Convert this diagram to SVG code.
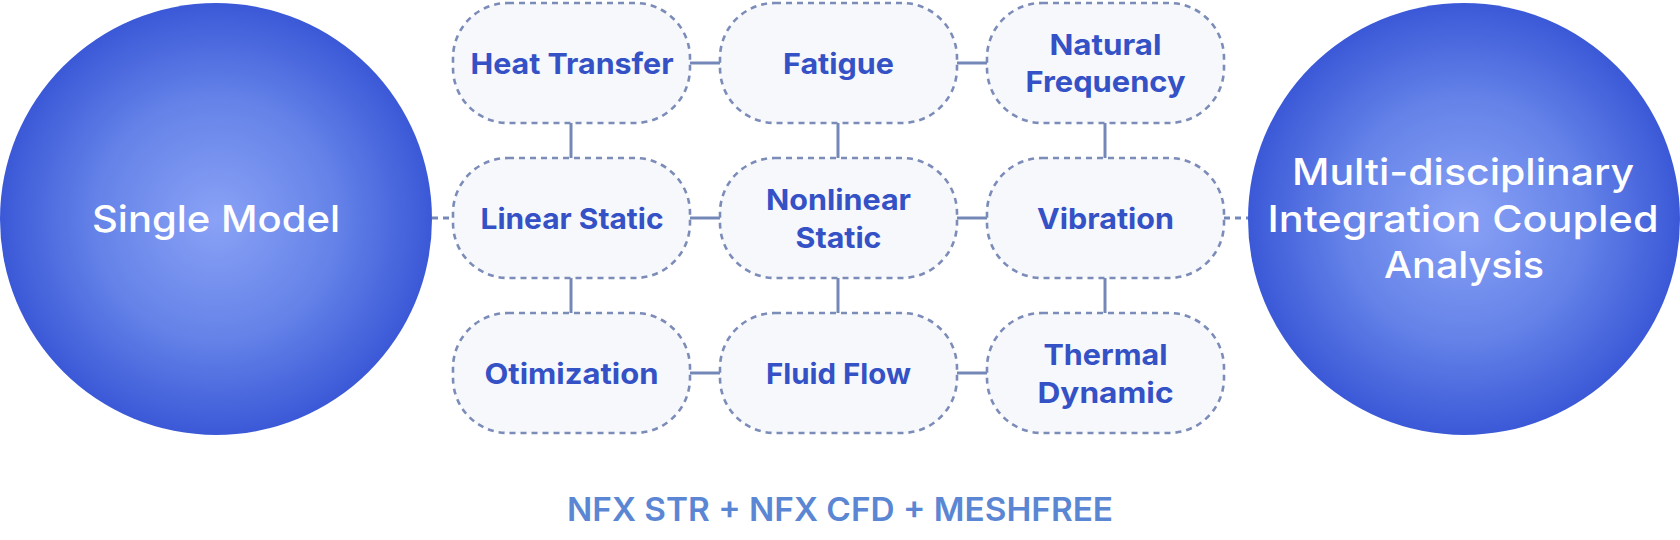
<svg xmlns="http://www.w3.org/2000/svg" width="1680" height="540" viewBox="0 0 1680 540">
  <defs>
    <radialGradient id="ballGrad" cx="50%" cy="50%" r="50%">
      <stop offset="0%" stop-color="#8aa2f6"/>
      <stop offset="55%" stop-color="#6583e8"/>
      <stop offset="100%" stop-color="#3b59d7"/>
    </radialGradient>
  </defs>
  <style>
    .ball { fill: url(#ballGrad); }
    .ballText { fill: #ffffff; font-family: Inter, "Open Sans", "Liberation Sans", sans-serif; font-size: 37px; font-weight: 500; text-anchor: middle; }
    .box { fill: #f6f8fc; stroke: #7c8cb8; stroke-width: 2.6; stroke-dasharray: 6 5; }
    .boxText { fill: #3451c6; font-family: Inter, "Open Sans", "Liberation Sans", sans-serif; font-size: 29px; font-weight: 700; text-anchor: middle; }
    .link { stroke: #7488b8; stroke-width: 3; fill: none; }
    .dlink { stroke: #7488b8; stroke-width: 3; fill: none; stroke-dasharray: 6 5; }
    .footer { fill: #5b86d4; font-family: Inter, "Open Sans", "Liberation Sans", sans-serif; font-size: 32px; font-weight: 600; text-anchor: middle; }
  </style>
  <rect width="1680" height="540" fill="#ffffff"/>

  <g id="connectors">
    <line class="dlink" x1="432" y1="218" x2="453" y2="218"/>
    <line class="dlink" x1="1224" y1="218" x2="1249" y2="218"/>
    <line class="link" x1="690" y1="63" x2="720" y2="63"/>
    <line class="link" x1="957" y1="63" x2="987" y2="63"/>
    <line class="link" x1="690" y1="218" x2="720" y2="218"/>
    <line class="link" x1="957" y1="218" x2="987" y2="218"/>
    <line class="link" x1="690" y1="373" x2="720" y2="373"/>
    <line class="link" x1="957" y1="373" x2="987" y2="373"/>
    <line class="link" x1="571" y1="123" x2="571" y2="158"/>
    <line class="link" x1="838" y1="123" x2="838" y2="158"/>
    <line class="link" x1="1105" y1="123" x2="1105" y2="158"/>
    <line class="link" x1="571" y1="278" x2="571" y2="313"/>
    <line class="link" x1="838" y1="278" x2="838" y2="313"/>
    <line class="link" x1="1105" y1="278" x2="1105" y2="313"/>
  </g>

  <g id="single-model">
    <circle class="ball" cx="216" cy="219" r="216"/>
    <text class="ballText" x="216" y="232" font-size="38" textLength="248" lengthAdjust="spacingAndGlyphs">Single Model</text>
  </g>

  <g id="coupled-analysis">
    <circle class="ball" cx="1464" cy="219" r="216"/>
    <text class="ballText" x="1463" y="185" textLength="342" lengthAdjust="spacingAndGlyphs">Multi-disciplinary</text>
    <text class="ballText" x="1463" y="232" textLength="391" lengthAdjust="spacingAndGlyphs">Integration Coupled</text>
    <text class="ballText" x="1464" y="278" textLength="160" lengthAdjust="spacingAndGlyphs">Analysis</text>
  </g>

  <g id="heat-transfer">
    <rect class="box" x="453" y="3" width="237" height="120" rx="55"/>
    <text class="boxText" x="572" y="74" textLength="203" lengthAdjust="spacingAndGlyphs">Heat Transfer</text>
  </g>
  <g id="fatigue">
    <rect class="box" x="720" y="3" width="237" height="120" rx="55"/>
    <text class="boxText" x="838.5" y="74" textLength="111" lengthAdjust="spacingAndGlyphs">Fatigue</text>
  </g>
  <g id="natural-frequency">
    <rect class="box" x="987" y="3" width="237" height="120" rx="55"/>
    <text class="boxText" x="1105.5" y="55" textLength="112" lengthAdjust="spacingAndGlyphs">Natural</text>
    <text class="boxText" x="1105.5" y="92" textLength="160" lengthAdjust="spacingAndGlyphs">Frequency</text>
  </g>

  <g id="linear-static">
    <rect class="box" x="453" y="158" width="237" height="120" rx="55"/>
    <text class="boxText" x="572" y="229" textLength="183" lengthAdjust="spacingAndGlyphs">Linear Static</text>
  </g>
  <g id="nonlinear-static">
    <rect class="box" x="720" y="158" width="237" height="120" rx="55"/>
    <text class="boxText" x="838.5" y="210" textLength="145" lengthAdjust="spacingAndGlyphs">Nonlinear</text>
    <text class="boxText" x="838.5" y="248" textLength="86" lengthAdjust="spacingAndGlyphs">Static</text>
  </g>
  <g id="vibration">
    <rect class="box" x="987" y="158" width="237" height="120" rx="55"/>
    <text class="boxText" x="1105.5" y="229" textLength="137" lengthAdjust="spacingAndGlyphs">Vibration</text>
  </g>

  <g id="otimization">
    <rect class="box" x="453" y="313" width="237" height="120" rx="55"/>
    <text class="boxText" x="571.5" y="384" textLength="174" lengthAdjust="spacingAndGlyphs">Otimization</text>
  </g>
  <g id="fluid-flow">
    <rect class="box" x="720" y="313" width="237" height="120" rx="55"/>
    <text class="boxText" x="838.5" y="384" textLength="145" lengthAdjust="spacingAndGlyphs">Fluid Flow</text>
  </g>
  <g id="thermal-dynamic">
    <rect class="box" x="987" y="313" width="237" height="120" rx="55"/>
    <text class="boxText" x="1105.5" y="365" textLength="124" lengthAdjust="spacingAndGlyphs">Thermal</text>
    <text class="boxText" x="1105.5" y="403" textLength="136" lengthAdjust="spacingAndGlyphs">Dynamic</text>
  </g>

  <g id="footer">
    <text class="footer" x="840" y="521" textLength="546" lengthAdjust="spacingAndGlyphs">NFX STR + NFX CFD + MESHFREE</text>
  </g>
</svg>
